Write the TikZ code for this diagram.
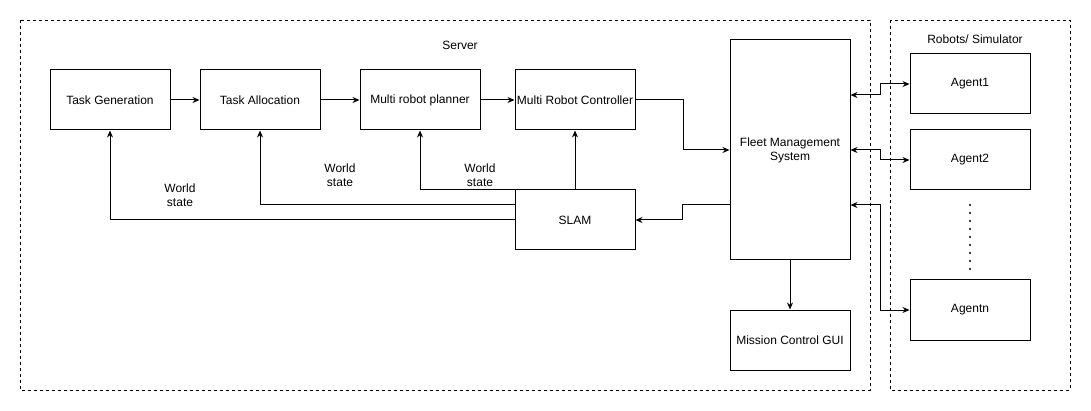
\documentclass[tikz,border=0pt]{standalone}
\usepackage{fontspec}
\setmainfont{Liberation Sans}
\usetikzlibrary{arrows.meta}
\tikzset{
  block/.style={draw, line width=1pt, minimum width=120pt, minimum height=60pt, inner sep=0pt, align=center},
  zone/.style={draw, line width=0.8pt, dash pattern=on 3pt off 3pt},
  arr/.style={line width=1pt, -{Stealth[length=7pt,width=6pt]}},
  biarr/.style={line width=1pt, {Stealth[length=7pt,width=6pt]}-{Stealth[length=7pt,width=6pt]}},
  lbl/.style={align=center, inner sep=0pt}
}
\begin{document}
\begin{tikzpicture}[x=1pt, y=-1pt, font=\fontsize{12}{14}\selectfont]
        \useasboundingbox (0,0) rectangle (1091,411);
        % dashed zones
        \draw[zone] (20,20) rectangle (870,390);
        \draw[zone] (890,20) rectangle (1070,390);
        \node[lbl] (server) at (460,45) {Server};
        \node[lbl] (robots) at (975,39) {Robots/ Simulator};

        % server blocks
        \node[block] (tg)   at (110,100) {Task Generation};
        \node[block] (ta)   at (260,100) {Task Allocation};
        \node[block] (mrp)  at (420,100) {Multi robot planner};
        \node[block] (mrc)  at (575,100) {Multi Robot Controller};
        \node[block] (slam) at (575,220) {SLAM};
        \node[block, minimum height=220pt] (fms) at (790,150) {Fleet Management\\System};
        \node[block] (gui)  at (790,340) {Mission Control GUI};

        % agents
        \node[block] (a1) at (970,84)  {Agent1};
        \node[block] (a2) at (970,160) {Agent2};
        \node[block] (an) at (970,310) {Agentn};
        \foreach \k in {0,...,8}
            \fill (970,205+\k*8) circle (1.1);

        % pipeline
        \draw[arr] (tg) -- (ta);
        \draw[arr] (ta) -- (mrp);
        \draw[arr] (mrp) -- (mrc);
        \draw[arr] (mrc.east) -- ++(48,0) |- (fms.west);
        \draw[arr] ([yshift=-55pt]fms.west) -- ++(-47,0) |- (slam.east);
        \draw[arr] (fms) -- (gui);

        % world state feedback
        \draw[arr] (slam.north) -- (mrc.south);
        \draw[arr] (slam.north west) -| (mrp.south);
        \draw[arr] ([yshift=-15pt]slam.north west) -| (ta.south);
        \draw[arr] (slam.west) -| (tg.south);
        \node[lbl] (ws1) at (180,195) {World\\state};
        \node[lbl] (ws2) at (340,175) {World\\state};
        \node[lbl] (ws3) at (480,175) {World\\state};

        % fleet to agents
        \draw[biarr] ([yshift=55pt]fms.east) -- ++(30,0) |- (a1.west);
        \draw[biarr] (fms.east) -- ++(30,0) |- (a2.west);
        \draw[biarr] ([yshift=-55pt]fms.east) -- ++(30,0) |- (an.west);
\end{tikzpicture}
\end{document}
